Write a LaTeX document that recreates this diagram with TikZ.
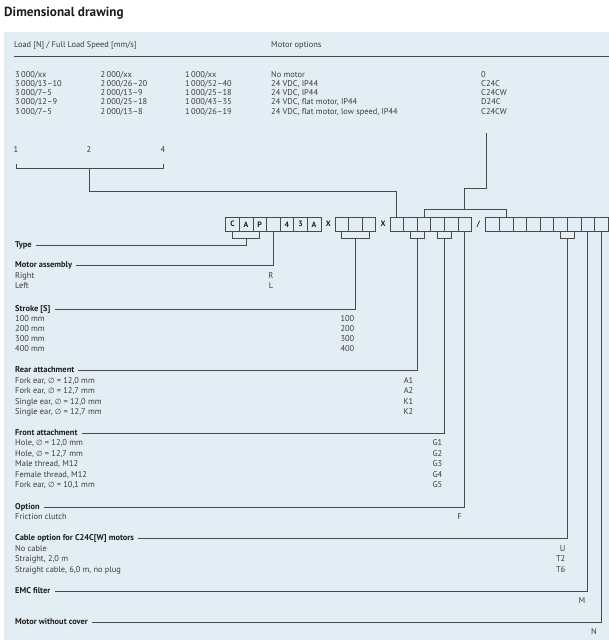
\documentclass[tikz,border=0pt]{standalone}
\usepackage{fontspec}
\setmainfont{PT Sans}
\newfontfamily\symfont{DejaVu Sans}
\usetikzlibrary{calc}
\definecolor{bg}{HTML}{E3EEF4}
\definecolor{txtc}{HTML}{3C3C3C}
\definecolor{hdc}{HTML}{1E1E1E}
\definecolor{lnc}{HTML}{4A4A4A}
\newcommand{\dia}{{\symfont\fontsize{7.5}{9}\selectfont ∅}}
\begin{document}
\begin{tikzpicture}[x=1pt,y=-1pt,
  txt/.style={anchor=west, inner sep=0pt, text height=6pt, text depth=1.8pt,
    font=\fontsize{8.4}{10}\selectfont, text=txtc},
  rtxt/.style={txt, anchor=east},
  hd/.style={txt, font=\fontsize{8.4}{10}\selectfont\bfseries, text=hdc},
  cell/.style={draw=lnc, line width=0.8pt, minimum width=13.6pt, minimum height=13.5pt,
    inner sep=0pt, font=\fontsize{7.8}{9}\selectfont\bfseries, text=hdc},
  sep/.style={inner sep=0pt, font=\fontsize{7.8}{9}\selectfont\bfseries, text=hdc},
  conn/.style={draw=lnc, line width=0.9pt}]
\useasboundingbox (0,0) rectangle (609,640);
\fill[bg] (4,32) rectangle (609,640);
\node[anchor=west, inner sep=0pt, font=\fontsize{13.2}{15}\selectfont\bfseries, text=hdc] (title) at (4,13) {Dimensional drawing};

% header
\node[txt] (hload) at (14,45) {Load [N] / Full Load Speed [mm/s]};
\node[txt] (hmot) at (271,45) {Motor options};
\coordinate (rl) at (14,56);
\coordinate (rr) at (609,56);
\draw[conn] (rl) -- (rr);

% table rows
\node[txt] (r11) at (15,75.5) {3\,000/xx};
\node[txt] (r12) at (100.5,75.5) {2\,000/xx};
\node[txt] (r13) at (185,75.5) {1\,000/xx};
\node[txt] (r14) at (271,75.5) {No motor};
\node[txt] (r15) at (481,75.5) {0};
\node[txt] (r21) at (15,84.6) {3\,000/13–10};
\node[txt] (r22) at (100.5,84.6) {2\,000/26–20};
\node[txt] (r23) at (185,84.6) {1\,000/52–40};
\node[txt] (r24) at (271,84.6) {24 VDC, IP44};
\node[txt] (r25) at (481,84.6) {C24C};
\node[txt] (r31) at (15,93.7) {3\,000/7–5};
\node[txt] (r32) at (100.5,93.7) {2\,000/13–9};
\node[txt] (r33) at (185,93.7) {1\,000/25–18};
\node[txt] (r34) at (271,93.7) {24 VDC, IP44};
\node[txt] (r35) at (481,93.7) {C24CW};
\node[txt] (r41) at (15,102.8) {3\,000/12–9};
\node[txt] (r42) at (100.5,102.8) {2\,000/25–18};
\node[txt] (r43) at (185,102.8) {1\,000/43–35};
\node[txt] (r44) at (271,102.8) {24 VDC, flat motor, IP44};
\node[txt] (r45) at (481,102.8) {D24C};
\node[txt] (r51) at (15,111.9) {3\,000/7–5};
\node[txt] (r52) at (100.5,111.9) {2\,000/13–8};
\node[txt] (r53) at (185,111.9) {1\,000/26–19};
\node[txt] (r54) at (271,111.9) {24 VDC, flat motor, low speed, IP44};
\node[txt] (r55) at (481,111.9) {C24CW};

% numbers
\node[txt] (n1) at (13.5,150) {1};
\node[txt] (n2) at (86.5,150) {2};
\node[txt] (n4) at (160.5,150) {4};

% boxes
\foreach \t [count=\i] in {C,A,P,{},4,3,A}
  \node[cell] (a\i) at ({225.7+13.6*(\i-0.5)},224.25) {\t};
\node[sep] (x1) at (328.3,224.25) {X};
\foreach \i in {1,2,3}
  \node[cell] (b\i) at ({335+13.6*(\i-0.5)},224.25) {};
\node[sep] (x2) at (383.2,224.25) {X};
\foreach \i in {1,...,6}
  \node[cell] (c\i) at ({390+13.6*(\i-0.5)},224.25) {};
\node[sep] (sl) at (478.5,224.25) {/};
\foreach \i in {1,...,9}
  \node[cell] (d\i) at ({485.7+13.6*(\i-0.5)},224.25) {};

% levels
\coordinate (brk) at (0,238);
\coordinate (lb) at (0,168.5);
\coordinate (lh) at (0,191.7);
\coordinate (mh) at (0,188);
\coordinate (tb) at (0,209);
\coordinate (mtop) at (486,133);

% load connector
\draw[conn] ([yshift=-10pt]n1.south) -- (n1.south |- lb) -- (n4.south |- lb) -- ([yshift=-10pt]n4.south);
\draw[conn] (n2.south |- lb) |- (c1.north |- lh) -- (c1.north);
% motor connector
\draw[conn] (mtop) |- (c6.north |- mh) -- (c6.north |- tb);
\draw[conn] (c3.north) -- (c3.north |- tb) -- (d2.north |- tb) -- (d2.north);

% left side texts
\node[hd] (type) at (15,245) {Type};
\node[hd] (masm) at (15,265) {Motor assembly};
\node[txt] (right) at (15,276) {Right};
\node[txt] (left) at (15,286.3) {Left};
\node[rtxt] (vr) at (273.5,276) {R};
\node[rtxt] (vl) at (273.5,286.3) {L};

\node[hd] (stroke) at (15,309) {Stroke [S]};
\node[txt] (s1) at (15,319.3) {100 mm};
\node[txt] (s2) at (15,329.3) {200 mm};
\node[txt] (s3) at (15,339.3) {300 mm};
\node[txt] (s4) at (15,349.3) {400 mm};
\node[rtxt] (v1) at (354.5,319.3) {100};
\node[rtxt] (v2) at (354.5,329.3) {200};
\node[rtxt] (v3) at (354.5,339.3) {300};
\node[rtxt] (v4) at (354.5,349.3) {400};

\node[hd] (rear) at (15,370.7) {Rear attachment};
\node[txt] (ra1) at (15,381.2) {Fork ear, \dia{} = 12,0 mm};
\node[txt] (ra2) at (15,391.6) {Fork ear, \dia{} = 12,7 mm};
\node[txt] (ra3) at (15,402) {Single ear, \dia{} = 12,0 mm};
\node[txt] (ra4) at (15,412.4) {Single ear, \dia{} = 12,7 mm};
\node[rtxt] (va1) at (413.5,381.2) {A1};
\node[rtxt] (va2) at (413.5,391.6) {A2};
\node[rtxt] (vk1) at (413.5,402) {K1};
\node[rtxt] (vk2) at (413.5,412.4) {K2};

\node[hd] (front) at (15,433.3) {Front attachment};
\node[txt] (fa1) at (15,443.6) {Hole, \dia{} = 12,0 mm};
\node[txt] (fa2) at (15,454) {Hole, \dia{} = 12,7 mm};
\node[txt] (fa3) at (15,464.5) {Male thread, M12};
\node[txt] (fa4) at (15,475) {Female thread, M12};
\node[txt] (fa5) at (15,485.5) {Fork ear, \dia{} = 10,1 mm};
\node[rtxt] (vg1) at (442.5,443.6) {G1};
\node[rtxt] (vg2) at (442.5,454) {G2};
\node[rtxt] (vg3) at (442.5,464.5) {G3};
\node[rtxt] (vg4) at (442.5,475) {G4};
\node[rtxt] (vg5) at (442.5,485.5) {G5};

\node[hd] (opt) at (15,507) {Option};
\node[txt] (fc) at (15,517.3) {Friction clutch};
\node[rtxt] (vf) at (462,517.3) {F};

\node[hd] (cable) at (15,538.7) {Cable option for C24C[W] motors};
\node[txt] (cb1) at (15,549.3) {No cable};
\node[txt] (cb2) at (15,559.8) {Straight, 2,0 m};
\node[txt] (cb3) at (15,570.3) {Straight cable, 6,0 m, no plug};
\node[rtxt] (vu) at (565.5,549.3) {U};
\node[rtxt] (vt2) at (565.5,559.8) {T2};
\node[rtxt] (vt6) at (565.5,570.3) {T6};

\node[hd] (emc) at (15,591) {EMC filter};
\node[rtxt] (vm) at (585.5,601.3) {M};
\node[hd] (mwc) at (15,622.5) {Motor without cover};
\node[rtxt] (vn) at (597,632.7) {N};

% mid points for stems
\coordinate (rearm) at ($(c2.south)!0.5!(c3.south)$);
\coordinate (frontm) at ($(c4.south)!0.5!(c5.south)$);
\coordinate (cablem) at ($(d6.south)!0.5!(d7.south)$);

% lower connectors
\draw[conn] (a1.south) -- (a1.south |- brk) -- (a3.south |- brk) -- (a3.south);
\draw[conn] (a2.south |- brk) |- ([xshift=4pt]type.east);
\draw[conn] (a4.south) |- ([xshift=4pt]masm.east);
\draw[conn] (b1.south) -- (b1.south |- brk) -- (b3.south |- brk) -- (b3.south);
\draw[conn] (b2.south |- brk) |- ([xshift=4pt]stroke.east);
\draw[conn] (c2.south) -- (c2.south |- brk) -- (c3.south |- brk) -- (c3.south);
\draw[conn] (rearm |- brk) |- ([xshift=4pt]rear.east);
\draw[conn] (c4.south) -- (c4.south |- brk) -- (c5.south |- brk) -- (c5.south);
\draw[conn] (frontm |- brk) |- ([xshift=4pt]front.east);
\draw[conn] (c6.south) |- ([xshift=4pt]opt.east);
\draw[conn] (d6.south) -- (d6.south |- brk) -- (d7.south |- brk) -- (d7.south);
\draw[conn] (cablem |- brk) |- ([xshift=4pt]cable.east);
\draw[conn] (d8.south) |- ([xshift=4pt]emc.east);
\draw[conn] (d9.south) |- ([xshift=4pt]mwc.east);
\end{tikzpicture}
\end{document}
